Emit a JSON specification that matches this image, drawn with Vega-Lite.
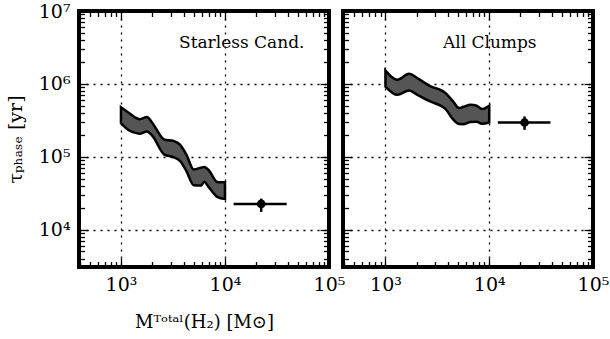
{
  "$schema": "https://vega.github.io/schema/vega-lite/v6.json",
  "background": "white",
  "padding": {"left": 4, "top": 0, "right": 0, "bottom": 0},
  "bounds": "flush",
  "spacing": 14,
  "config": {
    "view": {"stroke": "black", "strokeWidth": 4},
    "font": "DejaVu Serif",
    "axis": {
      "domain": false,
      "ticks": true,
      "labelFont": "DejaVu Serif",
      "labelFontSize": 19,
      "labelColor": "black",
      "titleFont": "DejaVu Serif",
      "titleFontWeight": "normal",
      "titleColor": "black",
      "titleFontSize": 18,
      "tickColor": "black",
      "tickWidth": 1.3,
      "tickSize": {"condition": {"test": "datum.value==1000||datum.value==10000||datum.value==100000||datum.value==1000000||datum.value==10000000", "value": -9}, "value": -5.5},
      "gridColor": "black",
      "gridDash": [2, 5],
      "gridWidth": 1.3,
      "labelOverlap": false,
      "labelFlush": false,
      "labelBound": false
    }
  },
  "datasets": {
    "bandL": [
      {"m": 1000, "hi": 479000, "lo": 290000},
      {"m": 1202, "hi": 396000, "lo": 229000},
      {"m": 1349, "hi": 351000, "lo": 214000},
      {"m": 1514, "hi": 328000, "lo": 207000},
      {"m": 1778, "hi": 350000, "lo": 222000},
      {"m": 1995, "hi": 293000, "lo": 195000},
      {"m": 2630, "hi": 171000, "lo": 106000},
      {"m": 3162, "hi": 166000, "lo": 99100},
      {"m": 3715, "hi": 145000, "lo": 87100},
      {"m": 4266, "hi": 106000, "lo": 63100},
      {"m": 5012, "hi": 66800, "lo": 40700},
      {"m": 5888, "hi": 70800, "lo": 40100},
      {"m": 6310, "hi": 72400, "lo": 45200},
      {"m": 6918, "hi": 66100, "lo": 38900},
      {"m": 8511, "hi": 44700, "lo": 27900},
      {"m": 10000, "hi": 44500, "lo": 26300}
    ],
    "bandR": [
      {"m": 1000, "hi": 1520000, "lo": 918000},
      {"m": 1303, "hi": 1135000, "lo": 706000},
      {"m": 1690, "hi": 1371000, "lo": 809000},
      {"m": 2032, "hi": 1197000, "lo": 706000},
      {"m": 2630, "hi": 946000, "lo": 582000},
      {"m": 3802, "hi": 746000, "lo": 450000},
      {"m": 4467, "hi": 578000, "lo": 327000},
      {"m": 5129, "hi": 465000, "lo": 281000},
      {"m": 5623, "hi": 484000, "lo": 280000},
      {"m": 6607, "hi": 515000, "lo": 300000},
      {"m": 7586, "hi": 501000, "lo": 301000},
      {"m": 8511, "hi": 450000, "lo": 283000},
      {"m": 10000, "hi": 500000, "lo": 295000}
    ],
    "ptL": [{"x": 22300, "y": 22500, "xlo": 12100, "xhi": 39200, "ylo": 17500, "yhi": 26600}],
    "ptR": [{"x": 21900, "y": 295000, "xlo": 12100, "xhi": 38900, "ylo": 234000, "yhi": 357000}]
  },
  "hconcat": [
    {
      "width": 250,
      "height": 256,
      "resolve": {"axis": {"x": "independent", "y": "independent"}},
      "layer": [
        {
          "data": {"name": "bandL"},
          "mark": {"type": "area", "color": "#555555", "stroke": "black", "strokeWidth": 2.5, "interpolate": "monotone"},
          "encoding": {
            "x": {"field": "m", "type": "quantitative", "scale": {"type": "log", "domain": [395, 100000]},
              "axis": {"orient": "bottom", "values": [400,500,600,700,800,900,1000,2000,3000,4000,5000,6000,7000,8000,9000,10000,20000,30000,40000,50000,60000,70000,80000,90000,100000],
                "labelExpr": "datum.value==1000?'10³':datum.value==10000?'10⁴':datum.value==100000?'10⁵':''",
                "labelPadding": 17,
                "grid": true,
                "gridOpacity": {"condition": {"test": "datum.value==1000||datum.value==10000", "value": 1}, "value": 0},
                "title": "Mᵀᵒᵗᵃˡ(H₂)  [M⊙]", "titlePadding": 16}},
            "y": {"field": "hi", "type": "quantitative", "scale": {"type": "log", "domain": [3063, 10000000]},
              "axis": {"orient": "left", "values": [4000,5000,6000,7000,8000,9000,10000,20000,30000,40000,50000,60000,70000,80000,90000,100000,200000,300000,400000,500000,600000,700000,800000,900000,1000000,2000000,3000000,4000000,5000000,6000000,7000000,8000000,9000000,10000000],
                "labelExpr": "datum.value==10000?'10⁴':datum.value==100000?'10⁵':datum.value==1000000?'10⁶':datum.value==10000000?'10⁷':''",
                "labelPadding": 18,
                "grid": true,
                "gridOpacity": {"condition": {"test": "datum.value==10000||datum.value==100000||datum.value==1000000", "value": 1}, "value": 0},
                "title": "τₚₕₐₛₑ  [yr]", "titleFontSize": 19, "titlePadding": 13}},
            "y2": {"field": "lo"}
          }
        },
        {
          "data": {"name": "ptL"},
          "mark": {"type": "rule", "color": "black", "strokeWidth": 2.5},
          "encoding": {
            "x": {"field": "xlo", "type": "quantitative", "scale": {"type": "log", "domain": [395, 100000]},
              "axis": {"orient": "top", "values": [400,500,600,700,800,900,1000,2000,3000,4000,5000,6000,7000,8000,9000,10000,20000,30000,40000,50000,60000,70000,80000,90000,100000],
                "labels": false, "grid": false, "title": null}},
            "x2": {"field": "xhi"},
            "y": {"field": "y", "type": "quantitative", "scale": {"type": "log", "domain": [3063, 10000000]},
              "axis": {"orient": "right", "values": [4000,5000,6000,7000,8000,9000,10000,20000,30000,40000,50000,60000,70000,80000,90000,100000,200000,300000,400000,500000,600000,700000,800000,900000,1000000,2000000,3000000,4000000,5000000,6000000,7000000,8000000,9000000,10000000],
                "labels": false, "grid": false, "title": null}}
          }
        },
        {
          "data": {"name": "ptL"},
          "mark": {"type": "rule", "color": "black", "strokeWidth": 2.5},
          "encoding": {
            "x": {"field": "x", "type": "quantitative", "scale": {"type": "log", "domain": [395, 100000]}, "axis": null},
            "y": {"field": "ylo", "type": "quantitative", "scale": {"type": "log", "domain": [3063, 10000000]}, "axis": null},
            "y2": {"field": "yhi"}
          }
        },
        {
          "data": {"name": "ptL"},
          "mark": {"type": "point", "filled": true, "color": "black", "opacity": 1, "size": 75},
          "encoding": {
            "x": {"field": "x", "type": "quantitative", "scale": {"type": "log", "domain": [395, 100000]}, "axis": null},
            "y": {"field": "y", "type": "quantitative", "scale": {"type": "log", "domain": [3063, 10000000]}, "axis": null}
          }
        },
        {
          "data": {"values": [{"label": "Starless Cand."}]},
          "mark": {"type": "text", "align": "left", "baseline": "middle", "fontSize": 17, "font": "DejaVu Serif", "color": "black"},
          "encoding": {
            "x": {"datum": 3614, "type": "quantitative", "scale": {"type": "log", "domain": [395, 100000]}, "axis": null},
            "y": {"datum": 3630000, "type": "quantitative", "scale": {"type": "log", "domain": [3063, 10000000]}, "axis": null},
            "text": {"field": "label"}
          }
        }
      ]
    },
    {
      "width": 250,
      "height": 256,
      "resolve": {"axis": {"x": "independent", "y": "independent"}},
      "layer": [
        {
          "data": {"name": "bandR"},
          "mark": {"type": "area", "color": "#555555", "stroke": "black", "strokeWidth": 2.5, "interpolate": "monotone"},
          "encoding": {
            "x": {"field": "m", "type": "quantitative", "scale": {"type": "log", "domain": [390, 100000]},
              "axis": {"orient": "bottom", "values": [400,500,600,700,800,900,1000,2000,3000,4000,5000,6000,7000,8000,9000,10000,20000,30000,40000,50000,60000,70000,80000,90000,100000],
                "labelExpr": "datum.value==1000?'10³':datum.value==10000?'10⁴':datum.value==100000?'10⁵':''",
                "labelPadding": 17,
                "grid": true,
                "gridOpacity": {"condition": {"test": "datum.value==1000||datum.value==10000", "value": 1}, "value": 0},
                "title": null}},
            "y": {"field": "hi", "type": "quantitative", "scale": {"type": "log", "domain": [3063, 10000000]},
              "axis": {"orient": "left", "values": [4000,5000,6000,7000,8000,9000,10000,20000,30000,40000,50000,60000,70000,80000,90000,100000,200000,300000,400000,500000,600000,700000,800000,900000,1000000,2000000,3000000,4000000,5000000,6000000,7000000,8000000,9000000,10000000],
                "labels": false,
                "grid": true,
                "gridOpacity": {"condition": {"test": "datum.value==10000||datum.value==100000||datum.value==1000000", "value": 1}, "value": 0},
                "title": null}},
            "y2": {"field": "lo"}
          }
        },
        {
          "data": {"name": "ptR"},
          "mark": {"type": "rule", "color": "black", "strokeWidth": 2.5},
          "encoding": {
            "x": {"field": "xlo", "type": "quantitative", "scale": {"type": "log", "domain": [390, 100000]},
              "axis": {"orient": "top", "values": [400,500,600,700,800,900,1000,2000,3000,4000,5000,6000,7000,8000,9000,10000,20000,30000,40000,50000,60000,70000,80000,90000,100000],
                "labels": false, "grid": false, "title": null}},
            "x2": {"field": "xhi"},
            "y": {"field": "y", "type": "quantitative", "scale": {"type": "log", "domain": [3063, 10000000]},
              "axis": {"orient": "right", "values": [4000,5000,6000,7000,8000,9000,10000,20000,30000,40000,50000,60000,70000,80000,90000,100000,200000,300000,400000,500000,600000,700000,800000,900000,1000000,2000000,3000000,4000000,5000000,6000000,7000000,8000000,9000000,10000000],
                "labels": false, "grid": false, "title": null}}
          }
        },
        {
          "data": {"name": "ptR"},
          "mark": {"type": "rule", "color": "black", "strokeWidth": 2.5},
          "encoding": {
            "x": {"field": "x", "type": "quantitative", "scale": {"type": "log", "domain": [390, 100000]}, "axis": null},
            "y": {"field": "ylo", "type": "quantitative", "scale": {"type": "log", "domain": [3063, 10000000]}, "axis": null},
            "y2": {"field": "yhi"}
          }
        },
        {
          "data": {"name": "ptR"},
          "mark": {"type": "point", "filled": true, "color": "black", "opacity": 1, "size": 75},
          "encoding": {
            "x": {"field": "x", "type": "quantitative", "scale": {"type": "log", "domain": [390, 100000]}, "axis": null},
            "y": {"field": "y", "type": "quantitative", "scale": {"type": "log", "domain": [3063, 10000000]}, "axis": null}
          }
        },
        {
          "data": {"values": [{"label": "All Clumps"}]},
          "mark": {"type": "text", "align": "left", "baseline": "middle", "fontSize": 17, "font": "DejaVu Serif", "color": "black"},
          "encoding": {
            "x": {"datum": 3580, "type": "quantitative", "scale": {"type": "log", "domain": [390, 100000]}, "axis": null},
            "y": {"datum": 3630000, "type": "quantitative", "scale": {"type": "log", "domain": [3063, 10000000]}, "axis": null},
            "text": {"field": "label"}
          }
        }
      ]
    }
  ]
}
